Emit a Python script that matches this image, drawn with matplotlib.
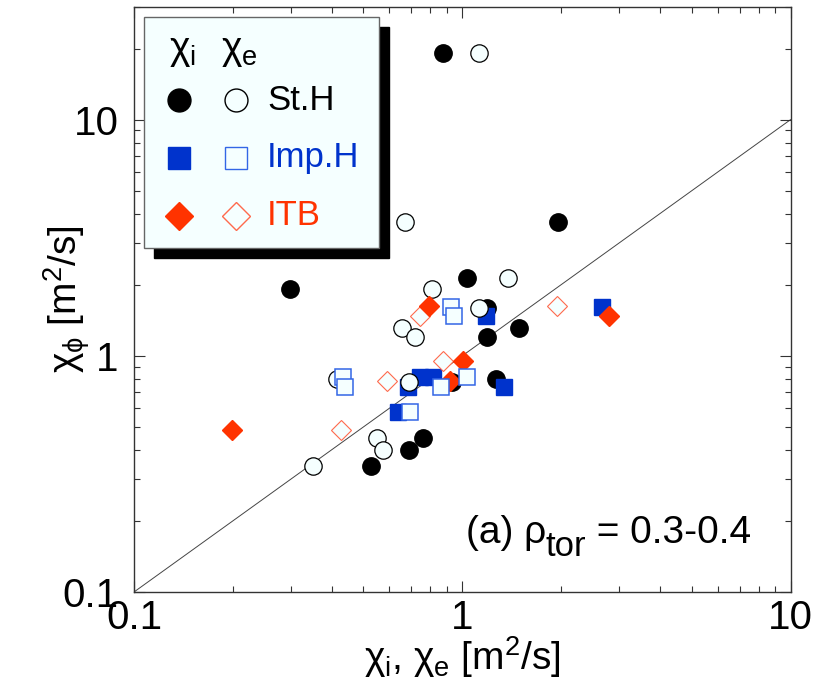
import matplotlib
matplotlib.use("Agg")
import matplotlib.pyplot as plt
from matplotlib.patches import Rectangle
from matplotlib.transforms import offset_copy

plt.rcParams['font.family'] = ['Liberation Sans', 'DejaVu Sans']
plt.rcParams['mathtext.fontset'] = 'custom'
plt.rcParams['mathtext.rm'] = 'Liberation Sans'
plt.rcParams['mathtext.it'] = 'Liberation Sans'
plt.rcParams['mathtext.bf'] = 'Liberation Sans:bold'

# St.H discharges: chi_phi against chi_i (filled) and chi_e (open)
sth_phi = [19.1, 3.69, 2.14, 1.92, 1.59, 1.31, 1.20, 0.795, 0.772, 0.448, 0.401, 0.340]
sth_chi_i = [0.873, 1.957, 1.033, 0.299, 1.189, 1.488, 1.189, 1.267, 0.930, 0.759, 0.688, 0.527]
sth_chi_e = [1.124, 0.669, 1.378, 0.809, 1.124, 0.655, 0.718, 0.415, 0.688, 0.550, 0.574, 0.351]

# Imp.H discharges
imp_phi = [1.61, 1.48, 0.815, 0.815, 0.735, 0.735, 0.581]
imp_chi_i = [2.665, 1.181, 0.743, 0.814, 0.683, 1.340, 0.637]
imp_chi_e = [0.924, 0.943, 0.433, 1.033, 0.439, 0.861, 0.693]

# ITB discharges
itb_phi = [0.485, 1.62, 0.948, 0.779, 1.48]
itb_chi_i = [0.199, 0.792, 1.005, 0.917, 2.799]
itb_chi_e = [0.427, 1.944, 0.873, 0.589, 0.743]

diag = [0.1, 10]
ticks = [0.1, 1, 10]
tick_labels = ['0.1', '1', '10']

BLUE = '#0033cc'
BLUE_E = '#3366e6'
RED = '#ff3300'
RED_E = '#ff6a4d'
PALE = '#f5ffff'

fig = plt.figure(figsize=(8.3, 6.88), dpi=100)
ax = fig.add_axes([134/830, 1-592/688, 656.5/830, 585/688])

ax.plot(diag, diag, color='#444444', lw=0.7, zorder=1)

ax.plot(sth_chi_i, sth_phi, 'o', ms=12.5, mfc='k', mec='k', zorder=2)
ax.plot(imp_chi_i, imp_phi, 's', ms=12, mfc=BLUE, mec=BLUE, zorder=3)
ax.plot(sth_chi_e, sth_phi, 'o', ms=12.5, mfc=PALE, mec='k', mew=0.9, zorder=4)
ax.plot(itb_chi_e, itb_phi, 'D', ms=10.5, mfc=PALE, mec=RED_E, mew=0.8, zorder=5)
ax.plot(itb_chi_i, itb_phi, 'D', ms=10.5, mfc=RED, mec=RED, zorder=6)
ax.plot(imp_chi_e, imp_phi, 's', ms=11.5, mfc=PALE, mec=BLUE_E, mew=1.1, zorder=7)

ax.set_xscale('log')
ax.set_yscale('log')
ax.set_xlim(0.1, 10)
ax.set_ylim(0.1, 30)

ax.set_xticks(ticks)
ax.set_xticklabels(tick_labels)
ax.set_yticks(ticks)
ax.set_yticklabels(tick_labels)
ax.tick_params(which='both', direction='in', top=True, right=True, width=0.8, color='#333333')
ax.tick_params(which='major', length=8, labelsize=29)
ax.tick_params(axis='x', which='major', pad=5)
ax.tick_params(axis='y', which='major', pad=11)
ax.tick_params(which='minor', length=4)
for s in ax.spines.values():
    s.set_linewidth(1.0)
    s.set_color('#333333')

ax.set_xlabel(r'$\chi_{\mathrm{i}}$, $\chi_{\mathrm{e}}$ [m$^{2}$/s]', fontsize=28, labelpad=-2)
ax.set_ylabel(r'$\chi_{\phi}$ [m$^{2}$/s]', fontsize=28)
ax.yaxis.set_label_coords(-0.064, 0.5)

# panel label, built piece by piece so the subscript stays large
fig.canvas.draw()
renderer = fig.canvas.get_renderer()
x0, y0 = 0.505, 0.084
dx = 0
for s, size, drop in [('(a) ρ', 28, 0), ('tor', 25, -13), (' = 0.3-0.4', 28, 0)]:
    tr = offset_copy(ax.transAxes, fig=fig, x=dx, y=drop, units='dots')
    t = ax.text(x0, y0, s, transform=tr, fontsize=size, ha='left', va='baseline')
    dx += t.get_window_extent(renderer).width

# legend box with drop shadow
bx, by, bw, bh = 0.0152, 0.588, 0.358, 0.395
ax.add_patch(Rectangle((bx + 0.0152, by - 0.0171), bw, bh, transform=ax.transAxes,
                       facecolor='k', edgecolor='k', zorder=20, clip_on=False))
ax.add_patch(Rectangle((bx, by), bw, bh, transform=ax.transAxes,
                       facecolor=PALE, edgecolor='#666666', lw=1.0, zorder=21, clip_on=False))

ax.text(0.073, 0.925, r'$\chi_{\mathrm{i}}$', transform=ax.transAxes, fontsize=28,
        ha='center', va='center', zorder=22)
ax.text(0.160, 0.925, r'$\chi_{\mathrm{e}}$', transform=ax.transAxes, fontsize=28,
        ha='center', va='center', zorder=22)

rows = [
    ('o', 16.5, 'k', 'k', 'St.H', 'k', 0.841),
    ('s', 16, BLUE, BLUE_E, 'Imp.H', BLUE, 0.742),
    ('D', 14, RED, RED_E, 'ITB', RED, 0.643),
]
for m, size, fc, ec, name, tc, yy in rows:
    ax.plot([0.0685], [yy], m, ms=size, mfc=fc, mec=fc, transform=ax.transAxes,
            zorder=22, clip_on=False)
    ax.plot([0.155], [yy], m, ms=size, mfc=PALE, mec=ec, mew=1.0, transform=ax.transAxes,
            zorder=22, clip_on=False)
    ax.text(0.2026, yy, name, transform=ax.transAxes, fontsize=25, color=tc,
            ha='left', va='center', zorder=22)

fig.savefig('out.png', dpi=100)
